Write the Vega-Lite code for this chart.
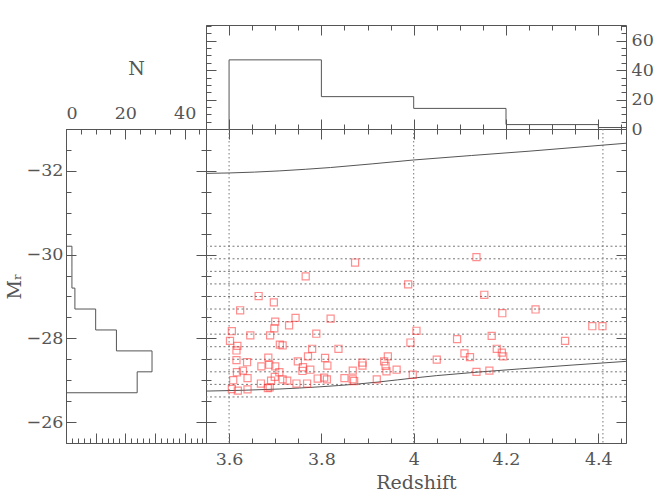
{
 "$schema": "https://vega.github.io/schema/vega-lite/v6.json",
 "background": "white",
 "padding": {"left": 4, "top": 24, "right": 4, "bottom": 4},
 "config": {
  "view": {"stroke": "#555"},
  "axis": {"grid": false, "domain": false, "labels": false, "tickColor": "#555", "labelFont": "DejaVu Serif", "labelFontSize": 17.5, "labelColor": "#555", "titleFont": "DejaVu Serif", "titleFontSize": 19, "titleFontWeight": "normal", "titleColor": "#555", "labelPadding": 10}
 },
 "datasets": {
  "topHist": [{"z":3.6,"n":0,"i":0},{"z":3.6,"n":47,"i":1},{"z":3.8,"n":22,"i":2},{"z":4.0,"n":14,"i":3},{"z":4.2,"n":3,"i":4},{"z":4.4,"n":1,"i":5},{"z":4.46,"n":1,"i":6}],
  "leftHist": [{"n":0,"M":-30.2,"i":0},{"n":2,"M":-29.7,"i":1},{"n":2,"M":-29.2,"i":2},{"n":3,"M":-28.7,"i":3},{"n":10,"M":-28.2,"i":4},{"n":17,"M":-27.7,"i":5},{"n":29,"M":-27.2,"i":6},{"n":24,"M":-26.7,"i":7},{"n":0,"M":-26.7,"i":8}],
  "hlines": [{"M":-30.2},{"M":-29.9},{"M":-29.6},{"M":-29.3},{"M":-29.0},{"M":-28.7},{"M":-28.4},{"M":-28.1},{"M":-27.8},{"M":-27.5},{"M":-27.2},{"M":-26.9},{"M":-26.6}],
  "vlines": [{"z":3.6},{"z":4.0},{"z":4.41}],
  "curveHi": [{"z":3.55,"M":-31.94},{"z":3.6,"M":-31.95},{"z":3.82,"M":-32.08},{"z":4.0,"M":-32.26},{"z":4.25,"M":-32.47},{"z":4.46,"M":-32.66}],
  "curveLo": [{"z":3.55,"M":-26.74},{"z":3.71,"M":-26.79},{"z":3.88,"M":-26.91},{"z":4.05,"M":-27.11},{"z":4.23,"M":-27.27},{"z":4.46,"M":-27.45}],
  "pts": [
   {"z":3.873,"M":-29.81},{"z":3.988,"M":-29.29},{"z":3.766,"M":-29.48},{"z":3.664,"M":-29.01},{"z":3.697,"M":-28.86},{"z":3.624,"M":-28.67},
   {"z":3.820,"M":-28.47},{"z":3.744,"M":-28.49},{"z":3.700,"M":-28.40},{"z":3.730,"M":-28.31},{"z":3.698,"M":-28.24},{"z":3.606,"M":-28.17},
   {"z":3.646,"M":-28.07},{"z":3.689,"M":-28.07},{"z":3.789,"M":-28.11},{"z":3.602,"M":-27.94},{"z":3.618,"M":-27.82},{"z":3.616,"M":-27.71},
   {"z":3.710,"M":-27.85},{"z":3.716,"M":-27.83},{"z":3.780,"M":-27.75},{"z":3.771,"M":-27.57},{"z":3.808,"M":-27.53},{"z":3.616,"M":-27.48},
   {"z":3.639,"M":-27.43},{"z":3.685,"M":-27.54},{"z":3.687,"M":-27.37},{"z":3.670,"M":-27.33},{"z":3.700,"M":-27.33},{"z":3.749,"M":-27.45},
   {"z":3.760,"M":-27.31},{"z":3.759,"M":-27.22},{"z":3.776,"M":-27.25},{"z":3.617,"M":-27.19},{"z":3.630,"M":-27.23},{"z":3.709,"M":-27.19},
   {"z":3.699,"M":-27.08},{"z":3.716,"M":-27.02},{"z":3.726,"M":-26.99},{"z":3.609,"M":-27.00},{"z":3.640,"M":-27.05},{"z":3.669,"M":-26.92},
   {"z":3.691,"M":-26.99},{"z":3.746,"M":-26.92},{"z":3.769,"M":-26.92},{"z":3.792,"M":-27.04},{"z":3.806,"M":-27.06},{"z":3.812,"M":-27.02},
   {"z":3.688,"M":-26.83},{"z":3.684,"M":-26.81},{"z":3.606,"M":-26.79},{"z":3.619,"M":-26.75},{"z":3.640,"M":-26.78},{"z":3.813,"M":-27.35},
   {"z":3.837,"M":-27.75},{"z":4.006,"M":-28.18},{"z":3.993,"M":-27.90},{"z":3.889,"M":-27.42},{"z":3.889,"M":-27.35},{"z":3.944,"M":-27.57},
   {"z":3.936,"M":-27.45},{"z":3.939,"M":-27.34},{"z":3.941,"M":-27.21},{"z":3.963,"M":-27.25},{"z":3.868,"M":-27.23},{"z":3.850,"M":-27.05},
   {"z":3.868,"M":-27.02},{"z":3.871,"M":-26.98},{"z":3.920,"M":-27.02},{"z":3.998,"M":-27.13},
   {"z":4.136,"M":-29.94},{"z":4.153,"M":-29.04},{"z":4.192,"M":-28.60},{"z":4.264,"M":-28.69},{"z":4.387,"M":-28.29},{"z":4.409,"M":-28.29},
   {"z":4.094,"M":-27.98},{"z":4.169,"M":-28.06},{"z":4.328,"M":-27.94},{"z":4.180,"M":-27.75},{"z":4.191,"M":-27.66},{"z":4.194,"M":-27.57},
   {"z":4.110,"M":-27.64},{"z":4.122,"M":-27.55},{"z":4.050,"M":-27.49},{"z":4.136,"M":-27.20},{"z":4.164,"M":-27.23}
  ]
 },
 "columns": 2,
 "spacing": 0,
 "bounds": "flush",
 "concat": [
  {"width": 140, "height": 104, "view": {"stroke": null}, "data": {"values": []}, "mark": "point"},
  {
   "width": 420, "height": 104,
   "data": {"name": "topHist"},
   "resolve": {"axis": {"x": "independent", "y": "independent"}},
   "layer": [
    {"mark": {"type": "line", "interpolate": "step-after", "color": "#555", "strokeWidth": 1},
     "encoding": {
      "x": {"field": "z", "type": "quantitative", "scale": {"domain": [3.55, 4.46], "nice": false, "zero": false}, "axis": {"orient": "bottom", "values": [3.6,3.8,4,4.2,4.4], "tickSize": -10, "title": null}},
      "y": {"field": "n", "type": "quantitative", "scale": {"domain": [0, 70.7], "nice": false}, "axis": {"orient": "left", "values": [0,20,40,60], "tickSize": -10, "title": null}},
      "order": {"field": "i", "type": "quantitative"}
     }},
    {"mark": {"type": "point", "opacity": 0},
     "encoding": {
      "x": {"field": "z", "type": "quantitative", "scale": {"domain": [3.55, 4.46], "nice": false, "zero": false}, "axis": {"orient": "bottom", "values": [3.55,3.6,3.65,3.7,3.75,3.8,3.85,3.9,3.95,4,4.05,4.1,4.15,4.2,4.25,4.3,4.35,4.4,4.45], "tickSize": -5, "title": null}},
      "y": {"field": "n", "type": "quantitative", "scale": {"domain": [0, 70.7], "nice": false}, "axis": {"orient": "left", "values": [0,5,10,15,20,25,30,35,40,45,50,55,60,65,70], "tickSize": -5, "title": null}}
     }},
    {"mark": {"type": "point", "opacity": 0},
     "encoding": {
      "x": {"field": "z", "type": "quantitative", "scale": {"domain": [3.55, 4.46], "nice": false, "zero": false}, "axis": {"orient": "top", "values": [3.6,3.8,4,4.2,4.4], "tickSize": -10, "title": null}},
      "y": {"field": "n", "type": "quantitative", "scale": {"domain": [0, 70.7], "nice": false}, "axis": {"orient": "right", "values": [0,20,40,60], "tickSize": -10, "labels": true, "labelPadding": 15, "format": "d", "title": null}}
     }},
    {"mark": {"type": "point", "opacity": 0},
     "encoding": {
      "x": {"field": "z", "type": "quantitative", "scale": {"domain": [3.55, 4.46], "nice": false, "zero": false}, "axis": {"orient": "top", "values": [3.55,3.6,3.65,3.7,3.75,3.8,3.85,3.9,3.95,4,4.05,4.1,4.15,4.2,4.25,4.3,4.35,4.4,4.45], "tickSize": -5, "title": null}},
      "y": {"field": "n", "type": "quantitative", "scale": {"domain": [0, 70.7], "nice": false}, "axis": {"orient": "right", "values": [0,5,10,15,20,25,30,35,40,45,50,55,60,65,70], "tickSize": -5, "title": null}}
     }}
   ]
  },
  {
   "width": 140, "height": 314,
   "data": {"name": "leftHist"},
   "resolve": {"axis": {"x": "independent", "y": "independent"}},
   "layer": [
    {"mark": {"type": "line", "interpolate": "step-after", "color": "#555", "strokeWidth": 1},
     "encoding": {
      "x": {"field": "n", "type": "quantitative", "scale": {"domain": [0, 47.2], "nice": false}, "axis": {"orient": "top", "values": [0,20,40], "tickSize": -10, "labels": true, "labelPadding": 17, "format": "d", "title": "N", "titlePadding": 26}},
      "y": {"field": "M", "type": "quantitative", "scale": {"domain": [-33, -25.5], "nice": false, "zero": false, "reverse": true}, "axis": {"orient": "left", "values": [-32,-30,-28,-26], "tickSize": -10, "labels": true, "labelPadding": 13, "format": "d", "title": "Mᵣ", "titlePadding": 2}},
      "order": {"field": "i", "type": "quantitative"}
     }},
    {"mark": {"type": "point", "opacity": 0},
     "encoding": {
      "x": {"field": "n", "type": "quantitative", "scale": {"domain": [0, 47.2], "nice": false}, "axis": {"orient": "top", "values": [0,5,10,15,20,25,30,35,40,45], "tickSize": -5, "title": null}},
      "y": {"field": "M", "type": "quantitative", "scale": {"domain": [-33, -25.5], "nice": false, "zero": false, "reverse": true}, "axis": {"orient": "left", "values": [-33,-32.5,-32,-31.5,-31,-30.5,-30,-29.5,-29,-28.5,-28,-27.5,-27,-26.5,-26,-25.5], "tickSize": -5, "title": null}}
     }},
    {"mark": {"type": "point", "opacity": 0},
     "encoding": {
      "x": {"field": "n", "type": "quantitative", "scale": {"domain": [0, 47.2], "nice": false}, "axis": {"orient": "bottom", "values": [0,10,20,30,40], "tickSize": -10, "title": null}},
      "y": {"field": "M", "type": "quantitative", "scale": {"domain": [-33, -25.5], "nice": false, "zero": false, "reverse": true}, "axis": {"orient": "right", "values": [-32,-30,-28,-26], "tickSize": -10, "title": null}}
     }},
    {"mark": {"type": "point", "opacity": 0},
     "encoding": {
      "x": {"field": "n", "type": "quantitative", "scale": {"domain": [0, 47.2], "nice": false}, "axis": {"orient": "bottom", "values": [0,2,4,6,8,10,12,14,16,18,20,22,24,26,28,30,32,34,36,38,40,42,44,46], "tickSize": -5, "title": null}},
      "y": {"field": "M", "type": "quantitative", "scale": {"domain": [-33, -25.5], "nice": false, "zero": false, "reverse": true}, "axis": {"orient": "right", "values": [-33,-32.5,-32,-31.5,-31,-30.5,-30,-29.5,-29,-28.5,-28,-27.5,-27,-26.5,-26,-25.5], "tickSize": -5, "title": null}}
     }}
   ]
  },
  {
   "width": 420, "height": 314,
   "resolve": {"axis": {"x": "independent", "y": "independent"}},
   "layer": [
    {"data": {"name": "hlines"},
     "mark": {"type": "rule", "color": "#777", "strokeDash": [2, 2.5], "strokeWidth": 1},
     "encoding": {
      "y": {"field": "M", "type": "quantitative", "scale": {"domain": [-33, -25.5], "nice": false, "zero": false, "reverse": true}, "axis": {"orient": "left", "values": [-32,-30,-28,-26], "tickSize": -10, "title": null}}
     }},
    {"data": {"name": "vlines"},
     "mark": {"type": "rule", "color": "#777", "strokeDash": [1.5, 2.5], "strokeWidth": 1},
     "encoding": {
      "x": {"field": "z", "type": "quantitative", "scale": {"domain": [3.55, 4.46], "nice": false, "zero": false}, "axis": {"orient": "bottom", "values": [3.6,3.8,4,4.2,4.4], "tickSize": -10, "labels": true, "labelPadding": 17, "format": "~g", "title": "Redshift", "titlePadding": 6}}
     }},
    {"data": {"name": "curveLo"},
     "mark": {"type": "line", "interpolate": "monotone", "color": "#555", "strokeWidth": 1},
     "encoding": {
      "x": {"field": "z", "type": "quantitative", "scale": {"domain": [3.55, 4.46], "nice": false, "zero": false}, "axis": {"orient": "bottom", "values": [3.55,3.6,3.65,3.7,3.75,3.8,3.85,3.9,3.95,4,4.05,4.1,4.15,4.2,4.25,4.3,4.35,4.4,4.45], "tickSize": -5, "title": null}},
      "y": {"field": "M", "type": "quantitative", "scale": {"domain": [-33, -25.5], "nice": false, "zero": false, "reverse": true}, "axis": {"orient": "left", "values": [-33,-32.5,-32,-31.5,-31,-30.5,-30,-29.5,-29,-28.5,-28,-27.5,-27,-26.5,-26,-25.5], "tickSize": -5, "title": null}}
     }},
    {"data": {"name": "curveHi"},
     "mark": {"type": "line", "interpolate": "monotone", "color": "#555", "strokeWidth": 1},
     "encoding": {
      "x": {"field": "z", "type": "quantitative", "scale": {"domain": [3.55, 4.46], "nice": false, "zero": false}, "axis": {"orient": "top", "values": [3.55,3.6,3.65,3.7,3.75,3.8,3.85,3.9,3.95,4,4.05,4.1,4.15,4.2,4.25,4.3,4.35,4.4,4.45], "tickSize": -5, "title": null}},
      "y": {"field": "M", "type": "quantitative", "scale": {"domain": [-33, -25.5], "nice": false, "zero": false, "reverse": true}, "axis": {"orient": "right", "values": [-33,-32.5,-32,-31.5,-31,-30.5,-30,-29.5,-29,-28.5,-28,-27.5,-27,-26.5,-26,-25.5], "tickSize": -5, "title": null}}
     }},
    {"data": {"name": "pts"},
     "mark": {"type": "point", "shape": "square", "filled": false, "size": 50, "color": "#ff3333", "strokeWidth": 1.2, "opacity": 0.55},
     "encoding": {
      "x": {"field": "z", "type": "quantitative", "scale": {"domain": [3.55, 4.46], "nice": false, "zero": false}, "axis": {"orient": "top", "values": [3.6,3.8,4,4.2,4.4], "tickSize": -10, "title": null}},
      "y": {"field": "M", "type": "quantitative", "scale": {"domain": [-33, -25.5], "nice": false, "zero": false, "reverse": true}, "axis": {"orient": "right", "values": [-32,-30,-28,-26], "tickSize": -10, "title": null}}
     }}
   ]
  }
 ]
}
